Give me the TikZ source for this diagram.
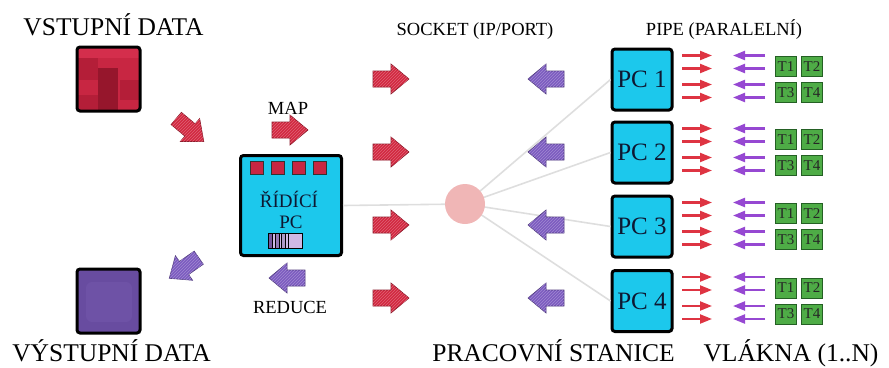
\documentclass[tikz,border=0pt]{standalone}
\usepackage{fontspec}
\setmainfont{Liberation Serif}
\usetikzlibrary{patterns,arrows.meta,calc}
\definecolor{cyanbox}{RGB}{28,200,236}
\definecolor{crimA}{RGB}{200,38,66}
\definecolor{crimB}{RGB}{180,30,56}
\definecolor{crimC}{RGB}{150,22,44}
\definecolor{crimD}{RGB}{212,46,76}
\definecolor{purpA}{RGB}{104,76,160}
\definecolor{purpB}{RGB}{110,82,166}
\definecolor{arrred}{RGB}{210,40,64}
\definecolor{arrpurp}{RGB}{124,92,192}
\definecolor{smred}{RGB}{222,52,66}
\definecolor{smpurp}{RGB}{150,72,210}
\definecolor{tgreen}{RGB}{78,172,70}
\definecolor{tgreendark}{RGB}{36,96,36}
\definecolor{gline}{RGB}{222,222,222}
\definecolor{pinkc}{RGB}{240,182,182}
\definecolor{navy}{RGB}{14,24,50}
\definecolor{lav}{RGB}{206,184,228}
\definecolor{lavdark}{RGB}{120,88,160}
\tikzset{
  pics/fatarrow/.style={code={
    \path[#1] (-18,-8) -- (0,-8) -- (0,-15) -- (18,0) -- (0,15) -- (0,8) -- (-18,8) -- cycle;}},
  redfat/.style={fill=arrred, draw=arrred!65!black, line width=0.6pt,
    postaction={pattern=north east lines, pattern color=white!28!arrred}},
  purpfat/.style={fill=arrpurp, draw=arrpurp!65!black, line width=0.6pt,
    postaction={pattern=north east lines, pattern color=white!28!arrpurp}},
  bigtxt/.style={font=\fontsize{25.5}{28}\selectfont, inner sep=0pt, anchor=base},
  smalltxt/.style={font=\fontsize{18.5}{21}\selectfont, inner sep=0pt, anchor=base},
  cbox/.style={draw=black, line width=3pt, rounded corners=3pt, fill=cyanbox},
  pcbox/.style={cbox, minimum width=60pt, minimum height=61pt, inner sep=0pt,
    text=navy, font=\fontsize{25}{28}\selectfont},
  tbox/.style={draw=tgreendark, line width=0.8pt, fill=tgreen, minimum width=21pt,
    minimum height=20pt, inner sep=0pt, text=black!85, font=\fontsize{15}{17}\selectfont},
  redsq/.style={draw=black!80, line width=0.8pt, fill=crimA, minimum size=13pt, inner sep=0pt},
  glink/.style={draw=gline, line width=1.6pt},
  smr/.style={draw=smred, line width=2.2pt, -{Triangle[length=12pt,width=9pt]}},
  smp/.style={draw=smpurp, line width=2.2pt, -{Triangle[length=12pt,width=9pt]}},
}
\begin{document}
\begin{tikzpicture}[x=1pt,y=-1pt]
\useasboundingbox (0,0) rectangle (889,367);

% input data square
\begin{scope}
  \clip[rounded corners=3pt] (77,47) rectangle (140,111);
  \fill[crimA] (77,47) rectangle (140,111);
  \fill[crimD] (77,47) rectangle (140,58);
  \fill[crimB] (77,58) rectangle (98,80);
  \fill[crimB] (120,80) rectangle (140,100);
  \fill[crimC] (98,68) rectangle (118,111);
  \fill[crimB] (77,95) rectangle (98,111);
\end{scope}
\node[draw=black, line width=3pt, rounded corners=3pt, minimum width=63pt, minimum height=64pt, inner sep=0pt] (indata) at (108.5,79) {};

% output data square
\node[draw=black, line width=3pt, rounded corners=3pt, fill=purpA, minimum width=63pt, minimum height=64pt, inner sep=0pt] (outdata) at (108.5,301) {};
\fill[purpB, rounded corners=6pt] (86,282) rectangle (132,322);

% labels
\node[bigtxt] (lin) at (113.5,35) {VSTUPNÍ DATA};
\node[bigtxt] (lout) at (111.5,361) {VÝSTUPNÍ DATA};
\node[bigtxt] (lpc) at (553.5,361) {PRACOVNÍ STANICE};
\node[bigtxt] (lth) at (791,361) {VLÁKNA (1..N)};
\node[smalltxt] (lsock) at (475,35) {SOCKET (IP/PORT)};
\node[smalltxt] (lpipe) at (724,35) {PIPE (PARALELNÍ)};
\node[smalltxt] (lmap) at (288,114) {MAP};
\node[smalltxt] (lred) at (290,313) {REDUCE};

% control PC
\node[cbox, minimum width=101pt, minimum height=100pt] (ctl) at (291,205.5) {};
\foreach \x [count=\k] in {257,278,299,320} \node[redsq] (sq\k) at (\x,168) {};
\node[font=\fontsize{19}{21}\selectfont, text=navy, inner sep=0pt, anchor=base] (ctxt1) at (289,207) {ŘÍDÍCÍ};
\node[font=\fontsize{19}{21}\selectfont, text=navy, inner sep=0pt, anchor=base] (ctxt2) at (291,228) {PC};
\fill[lav] (268,233) rectangle (302,248);
\fill[lavdark] (268,233) rectangle (272,248);
\fill[lavdark!80] (275,233) rectangle (279,248);
\fill[lavdark!60] (281,233) rectangle (285,248);
\draw[black, line width=0.6pt] (272,233) -- (272,248) (275,233) -- (275,248) (279,233) -- (279,248)
  (281,233) -- (281,248) (285,233) -- (285,248) (288,233) -- (288,248);
\node[draw=black, line width=1pt, minimum width=34pt, minimum height=15pt, inner sep=0pt] (bar) at (285,240.5) {};

% workstations
\foreach \i/\y in {1/79.5,2/152.5,3/226.5,4/301} {
  \node[pcbox] (pc\i) at (642,\y) {PC \i};
  \node[tbox] (t\i a) at (786,\y-13) {T1};
  \node[tbox] (t\i b) at (812,\y-13) {T2};
  \node[tbox] (t\i c) at (786,\y+13) {T3};
  \node[tbox] (t\i d) at (812,\y+13) {T4};
}

% hub and gray links
\node[circle, minimum size=40pt, inner sep=0pt] (hub) at (465,204) {};
\draw[glink] (ctl.east) -- (hub.center);
\foreach \i in {1,2,3,4} \draw[glink] (hub.center) -- (pc\i.west);
\fill[pinkc] (hub.center) circle[radius=20pt];

% small pipe arrows
\foreach \i in {1,2,3,4} {
  \foreach \dy in {-24,-11,5,18} {
    \draw[smr] ($(pc\i.center)+(40,\dy)$) -- ++(30,0);
    \draw[smp] ($(pc\i.center)+(123,\dy)$) -- ++(-32,0);
  }
}

% fat arrows
\pic[rotate=-40] at (190,130) {fatarrow=redfat};
\pic at (290,130) {fatarrow=redfat};
\pic[rotate=180] at (287,278) {fatarrow=purpfat};
\pic[rotate=215] at (184,268) {fatarrow=purpfat};
\foreach \y in {79,152,225,298} {
  \pic at (391,\y) {fatarrow=redfat};
  \pic[rotate=180] at (546,\y) {fatarrow=purpfat};
}
\end{tikzpicture}
\end{document}
